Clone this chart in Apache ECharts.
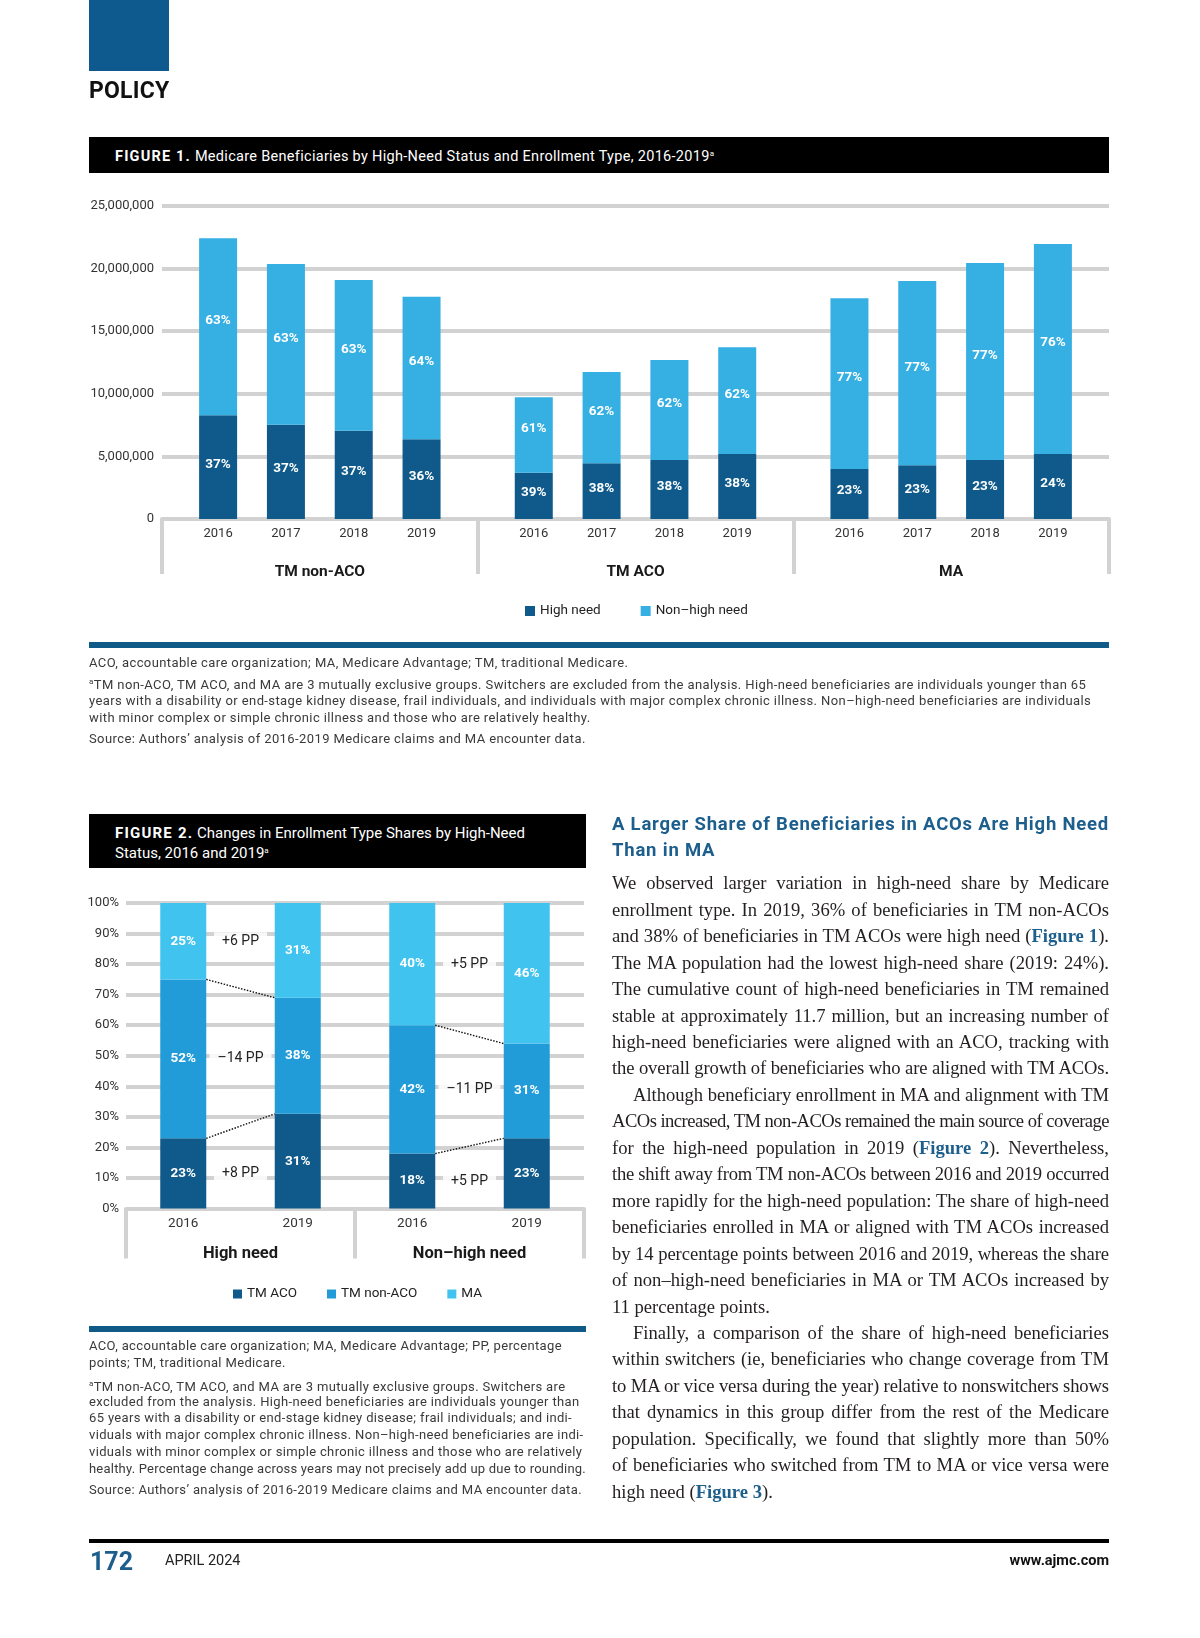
<!DOCTYPE html>
<html><head><meta charset="utf-8">
<script src="https://cdn.jsdelivr.net/npm/echarts@6/dist/echarts.min.js"></script>
<style>
html,body{margin:0;padding:0;background:#fff;}
#page{position:relative;width:1200px;height:1638px;overflow:hidden;font-family:Roboto,'Noto Sans',sans-serif;background:#fff;}
#chart{position:absolute;left:0;top:0;width:1200px;height:1638px;}
.abs{position:absolute;}
.ln{position:absolute;white-space:nowrap;}
.ref{color:#1c5e8c;font-weight:700;}
.sup{font-size:8px;position:relative;top:-5px;line-height:0;}
</style></head>
<body><div id="page"><div id="chart"></div></div>
<script>
// ---------- DATA ----------
const years = ['2016', '2017', '2018', '2019'];
const groups1 = ['TM non-ACO', 'TM ACO', 'MA'];
const highNonAco = [8280000, 7530000, 7050000, 6360000];
const nonHighNonAco = [14140000, 12840000, 12040000, 11400000];
const highAco = [3700000, 4450000, 4710000, 5190000];
const nonHighAco = [6020000, 7290000, 7990000, 8520000];
const highMA = [3990000, 4290000, 4710000, 5190000];
const nonHighMA = [13640000, 14710000, 15740000, 16770000];
const pctHighNonAco = [37, 37, 37, 36];
const pctNonHighNonAco = [63, 63, 63, 64];
const pctHighAco = [39, 38, 38, 38];
const pctNonHighAco = [61, 62, 62, 62];
const pctHighMA = [23, 23, 23, 24];
const pctNonHighMA = [77, 77, 77, 76];

const cats2 = ['2016', '2019', '2016', '2019'];
const groups2 = ['High need', 'Non–high need'];
const shareAco = [23, 31, 18, 23];
const shareNonAco = [52, 38, 42, 31];
const shareMA = [25, 31, 40, 46];
const ppHigh = ['+8 PP', '–14 PP', '+6 PP'];      // ACO, non-ACO, MA
const ppNonHigh = ['+5 PP', '–11 PP', '+5 PP'];

// ---------- STYLE ----------
const F = 'Roboto, "Noto Sans", sans-serif';
const SERIF = '"Liberation Serif", "DejaVu Serif", serif';
const GRID_C = '#d2d2d2';
const DARK = '#0f5a8a', LIGHT = '#36afe3';
const C_ACO = '#0f5a8a', C_NON = '#229cd8', C_MA = '#40c4ef';
const BW2 = 46;

// ---------- HTML TEXT ----------
const page = document.getElementById('page');
function rect(x, y, w, h, c) {
  const d = document.createElement('div'); d.className = 'abs';
  Object.assign(d.style, {left: x + 'px', top: y + 'px', width: w + 'px', height: h + 'px', background: c});
  page.appendChild(d); return d;
}
function line(html, x, cy, w, o) {
  const d = document.createElement('div'); d.className = 'ln';
  const lh = o.lh || Math.round(o.size * 1.4);
  Object.assign(d.style, {left: x + 'px', top: (cy - lh / 2) + 'px', width: w + 'px', height: lh + 'px',
    lineHeight: lh + 'px', fontSize: o.size + 'px', fontFamily: o.font || F, fontWeight: o.weight || 400,
    color: o.color || '#222', textAlign: o.align || 'left'});
  const s = document.createElement('span'); s.innerHTML = html;
  if (o.ls) s.style.letterSpacing = o.ls + 'px';
  if (o.indent) s.style.paddingLeft = o.indent + 'px';
  s.style.display = 'inline-block';
  d.appendChild(s); page.appendChild(d);
  if (o.justify || o.fit) {
    const txt = s.textContent;
    let nat = s.getBoundingClientRect().width;
    if (nat > w) {
      s.style.letterSpacing = ((o.ls || 0) + (w - nat) / txt.length) + 'px';
      nat = s.getBoundingClientRect().width;
    }
    const spaces = (txt.match(/ /g) || []).length;
    if (o.justify && spaces > 0 && nat < w) s.style.wordSpacing = ((w - nat) / spaces) + 'px';
  }
  return d;
}

// header
rect(89, 0, 80, 71, '#0e5a8e');
line('POLICY', 89, 91, 200, {size: 23, weight: 700, color: '#111', ls: 0.2});

// figure 1 title
rect(89, 137, 1020, 36, '#000');
line('<b style="letter-spacing:1.2px">FIGURE 1.</b> Medicare Beneficiaries by High-Need Status and Enrollment Type, 2016-2019<span class="sup">a</span>', 115, 157, 900, {size: 14.5, color: '#fff', ls: 0.3});

// figure 1 notes
rect(89, 642, 1020, 6, '#0f5a87');
const n1 = {size: 13, color: '#3a3a3a', ls: 0.4, fit: true};
line('ACO, accountable care organization; MA, Medicare Advantage; TM, traditional Medicare.', 89, 663, 1020, n1);
line('<span class="sup">a</span>TM non-ACO, TM ACO, and MA are 3 mutually exclusive groups. Switchers are excluded from the analysis. High-need beneficiaries are individuals younger than 65', 89, 684.5, 1003, n1);
line('years with a disability or end-stage kidney disease, frail individuals, and individuals with major complex chronic illness. Non–high-need beneficiaries are individuals', 89, 701, 1009, n1);
line('with minor complex or simple chronic illness and those who are relatively healthy.', 89, 718, 1020, n1);
line('Source: Authors’ analysis of 2016-2019 Medicare claims and MA encounter data.', 89, 739, 1020, n1);

// figure 2 title
rect(89, 814, 497, 54, '#000');
line('<b style="letter-spacing:1.2px">FIGURE 2.</b> Changes in Enrollment Type Shares by High-Need', 115, 833, 465, {size: 15, color: '#fff', fit: true});
line('Status, 2016 and 2019<span class="sup">a</span>', 115, 853, 465, {size: 15, color: '#fff'});

// figure 2 notes
rect(89, 1326, 497, 6, '#0f5a87');
const n2 = [
  ['ACO, accountable care organization; MA, Medicare Advantage; PP, percentage', 1346],
  ['points; TM, traditional Medicare.', 1363],
  ['<span class="sup">a</span>TM non-ACO, TM ACO, and MA are 3 mutually exclusive groups. Switchers are', 1386.5],
  ['excluded from the analysis. High-need beneficiaries are individuals younger than', 1401.5],
  ['65 years with a disability or end-stage kidney disease; frail individuals; and indi-', 1418],
  ['viduals with major complex chronic illness. Non–high-need beneficiaries are indi-', 1435],
  ['viduals with minor complex or simple chronic illness and those who are relatively', 1452],
  ['healthy. Percentage change across years may not precisely add up due to rounding.', 1468.5],
  ['Source: Authors’ analysis of 2016-2019 Medicare claims and MA encounter data.', 1490]
];
n2.forEach(([t, y]) => line(t, 89, y, 497, {size: 13, color: '#3a3a3a', ls: 0.35, fit: true}));

// right column
line('A Larger Share of Beneficiaries in ACOs Are High Need', 612, 824, 497, {size: 18.5, weight: 700, color: '#1c5e8c', ls: 0.8, fit: true});
line('Than in MA', 612, 850, 497, {size: 18.5, weight: 700, color: '#1c5e8c', ls: 0.8});
const bodyLines = [
  ['We observed larger variation in high-need share by Medicare', 'j'],
  ['enrollment type. In 2019, 36% of beneficiaries in TM non-ACOs', 'j'],
  ['and 38% of beneficiaries in TM ACOs were high need (<span class="ref">Figure 1</span>).', 'j'],
  ['The MA population had the lowest high-need share (2019: 24%).', 'j'],
  ['The cumulative count of high-need beneficiaries in TM remained', 'j'],
  ['stable at approximately 11.7 million, but an increasing number of', 'j'],
  ['high-need beneficiaries were aligned with an ACO, tracking with', 'j'],
  ['the overall growth of beneficiaries who are aligned with TM ACOs.', 'j'],
  ['Although beneficiary enrollment in MA and alignment with TM', 'ji'],
  ['ACOs increased, TM non-ACOs remained the main source of coverage', 'j'],
  ['for the high-need population in 2019 (<span class="ref">Figure 2</span>). Nevertheless,', 'j'],
  ['the shift away from TM non-ACOs between 2016 and 2019 occurred', 'j'],
  ['more rapidly for the high-need population: The share of high-need', 'j'],
  ['beneficiaries enrolled in MA or aligned with TM ACOs increased', 'j'],
  ['by 14 percentage points between 2016 and 2019, whereas the share', 'j'],
  ['of non–high-need beneficiaries in MA or TM ACOs increased by', 'j'],
  ['11 percentage points.', 'l'],
  ['Finally, a comparison of the share of high-need beneficiaries', 'ji'],
  ['within switchers (ie, beneficiaries who change coverage from TM', 'j'],
  ['to MA or vice versa during the year) relative to nonswitchers shows', 'j'],
  ['that dynamics in this group differ from the rest of the Medicare', 'j'],
  ['population. Specifically, we found that slightly more than 50%', 'j'],
  ['of beneficiaries who switched from TM to MA or vice versa were', 'j'],
  ['high need (<span class="ref">Figure 3</span>).', 'l']
];
bodyLines.forEach(([t, m], k) => line(t, 612, 883.3 + 26.45 * k, 497, {
  size: 18.6, font: SERIF, color: '#231f20', lh: 26, justify: m[0] === 'j', fit: true, indent: m === 'ji' ? 21 : 0
}));

// footer
rect(89, 1539, 1020, 4, '#000');
line('172', 90, 1561, 80, {size: 25, weight: 700, color: '#1c5e8c'});
line('APRIL 2024', 165, 1561, 200, {size: 14.5, color: '#222'});
line('www.ajmc.com', 900, 1561, 209, {size: 14.5, weight: 700, color: '#111', align: 'right'});

// ---------- CHARTS ----------
const f1 = {left: 162, top: 206, width: 947, height: 313};
const third = f1.width / 3, pad = 22.2, innerW = third - 2 * pad;
const fig1Groups = [
  {high: highNonAco, non: nonHighNonAco, pHigh: pctHighNonAco, pNon: pctNonHighNonAco},
  {high: highAco, non: nonHighAco, pHigh: pctHighAco, pNon: pctNonHighAco},
  {high: highMA, non: nonHighMA, pHigh: pctHighMA, pNon: pctNonHighMA}
];
const cum2 = (c, k) => [0, shareAco[c], shareAco[c] + shareNonAco[c], 100][k];
const ppSets = [ppHigh, ppNonHigh];

const barLabel = (fmt, off) => ({show: true, position: 'inside', offset: off, color: '#fff', fontWeight: 'bold', fontSize: 13.5, fontFamily: F, formatter: fmt});

const option = {
  animation: false,
  textStyle: {fontFamily: F},
  grid: [
    {left: f1.left, top: f1.top, width: f1.width, height: f1.height},
    ...[0, 1, 2].map(i => ({left: f1.left + i * third + pad, top: f1.top, width: innerW, height: f1.height})),
    {left: 126, top: 903, width: 458, height: 305.6}
  ],
  xAxis: [
    {gridIndex: 0, type: 'category', data: groups1,
      axisLine: {lineStyle: {color: GRID_C, width: 4}},
      axisTick: {show: true, interval: 0, length: 55, lineStyle: {color: GRID_C, width: 4}},
      axisLabel: {interval: 0, margin: 45, fontSize: 15.5, fontWeight: 'bold', color: '#1a1a1a'},
      splitLine: {show: false}},
    ...[1, 2, 3].map(g => ({gridIndex: g, type: 'category', data: years,
      axisLine: {show: false}, axisTick: {show: false},
      axisLabel: {interval: 0, margin: 8, fontSize: 13, color: '#333'}})),
    {gridIndex: 4, type: 'category', data: cats2, axisLine: {show: false}, axisTick: {show: false},
      axisLabel: {interval: 0, margin: 8, fontSize: 13.5, color: '#333'}},
    {gridIndex: 4, type: 'category', data: groups2, position: 'bottom',
      axisLine: {lineStyle: {color: GRID_C, width: 4}},
      axisTick: {show: true, interval: 0, length: 50, lineStyle: {color: GRID_C, width: 4}},
      axisLabel: {interval: 0, margin: 37, fontSize: 16.5, fontWeight: 'bold', color: '#1a1a1a'}}
  ],
  yAxis: [
    {gridIndex: 0, type: 'value', min: 0, max: 25000000, interval: 5000000,
      axisLine: {show: false}, axisTick: {show: false},
      axisLabel: {margin: 8, fontSize: 13, color: '#333', formatter: v => v.toLocaleString('en-US')},
      splitLine: {lineStyle: {color: GRID_C, width: 4}}},
    ...[1, 2, 3].map(g => ({gridIndex: g, type: 'value', min: 0, max: 25000000, show: false})),
    {gridIndex: 4, type: 'value', min: 0, max: 100, interval: 10,
      axisLine: {show: false}, axisTick: {show: false},
      axisLabel: {margin: 7, fontSize: 13, color: '#333', formatter: '{value}%'},
      splitLine: {lineStyle: {color: GRID_C, width: 4}}}
  ],
  legend: [
    {data: ['High need', 'Non–high need'], left: 520, top: 599, icon: 'rect', itemWidth: 10, itemHeight: 10,
      itemGap: 40, selectedMode: false, textStyle: {fontSize: 13.5, color: '#222'}},
    {data: ['TM ACO', 'TM non-ACO', 'MA'], left: 228, top: 1282, icon: 'rect', itemWidth: 9, itemHeight: 9,
      itemGap: 30, selectedMode: false, textStyle: {fontSize: 13.5, color: '#222'}}
  ],
  series: [
    ...fig1Groups.flatMap((grp, i) => [
      {name: 'High need', type: 'bar', xAxisIndex: i + 1, yAxisIndex: i + 1, stack: 's' + i, barWidth: 38,
        data: grp.high, itemStyle: {color: DARK}, label: barLabel(p => grp.pHigh[p.dataIndex] + '%', [0, -3])},
      {name: 'Non–high need', type: 'bar', xAxisIndex: i + 1, yAxisIndex: i + 1, stack: 's' + i, barWidth: 38,
        data: grp.non, itemStyle: {color: LIGHT}, label: barLabel(p => grp.pNon[p.dataIndex] + '%', [0, -6])}
    ]),
    {name: 'TM ACO', type: 'bar', xAxisIndex: 4, yAxisIndex: 4, stack: 'f2', barWidth: BW2, data: shareAco,
      itemStyle: {color: C_ACO}, label: barLabel('{c}%', [0, 0])},
    {name: 'TM non-ACO', type: 'bar', xAxisIndex: 4, yAxisIndex: 4, stack: 'f2', barWidth: BW2, data: shareNonAco,
      itemStyle: {color: C_NON}, label: barLabel('{c}%', [0, 0])},
    {name: 'MA', type: 'bar', xAxisIndex: 4, yAxisIndex: 4, stack: 'f2', barWidth: BW2, data: shareMA,
      itemStyle: {color: C_MA}, label: barLabel('{c}%', [0, 0])},
    {name: 'connectors', type: 'custom', xAxisIndex: 4, yAxisIndex: 4, z: 5, silent: true,
      data: [[0, 0], [1, 0]],
      renderItem: (params, api) => {
        const g = params.dataIndex, c0 = 2 * g, c1 = 2 * g + 1;
        const children = [];
        [1, 2].forEach(k => {
          const p0 = api.coord([c0, cum2(c0, k)]), p1 = api.coord([c1, cum2(c1, k)]);
          children.push({type: 'line', shape: {x1: p0[0] + BW2 / 2, y1: p0[1], x2: p1[0] - BW2 / 2, y2: p1[1]},
            style: {stroke: '#111', lineWidth: 1.4, lineDash: [1.5, 1.5]}});
        });
        [0, 1, 2].forEach(s => {
          const mid = (cum2(c0, s) + cum2(c0, s + 1)) / 2;
          const pa = api.coord([c0, mid]), pb = api.coord([c1, mid]);
          children.push({type: 'text', x: (pa[0] + pb[0]) / 2, y: pa[1],
            style: {text: ppSets[g][s], fill: '#222', fontSize: 14, fontFamily: F, align: 'center',
              verticalAlign: 'middle', backgroundColor: 'rgba(255,255,255,0.85)', padding: [2, 8]}});
        });
        return {type: 'group', children};
      }}
  ]
};
const chart = echarts.init(document.getElementById('chart'), null, {renderer: 'canvas'});
chart.setOption(option);
</script>
</body></html>
